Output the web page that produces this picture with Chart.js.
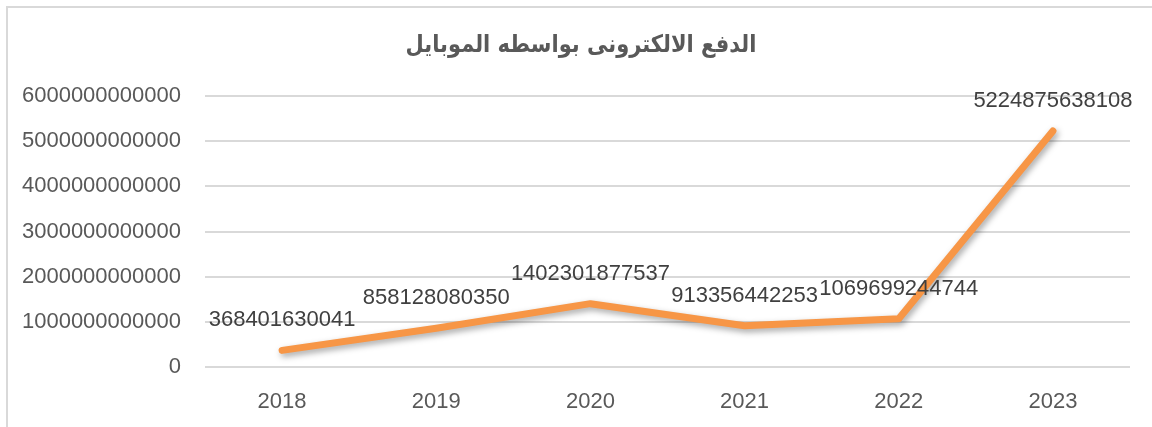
<!DOCTYPE html>
<html>
<head>
<meta charset="utf-8">
<script src="https://cdn.jsdelivr.net/npm/chart.js@4/dist/chart.umd.min.js"></script>
<style>
  html, body { margin: 0; padding: 0; background: #ffffff; overflow: hidden; }
  #frame { position: absolute; left: 6px; top: 6px; width: 1200px; height: 500px; border: 2px solid #d9d9d9; box-sizing: border-box; }
  #c { position: absolute; left: 0; top: 0; }
  #title { position: absolute; left: 381px; width: 400px; top: 28px; text-align: center; direction: rtl;
           font-family: "DejaVu Sans", "Noto Sans", sans-serif; font-weight: bold; font-size: 21px; line-height: 32px;
           color: #595959; transform: scaleY(1.15); white-space: nowrap; }
</style>
</head>
<body>
<div id="frame"></div>
<canvas id="c" width="1152" height="427"></canvas>
<div id="title"></div>
<script>
const titleText = "الدفع الالكترونى بواسطه الموبايل";
const categories = ["2018", "2019", "2020", "2021", "2022", "2023"];
const values = [368401630041, 858128080350, 1402301877537, 913356442253, 1069699244744, 5224875638108];
const yMin = 0;
const yMax = 6000000000000;
const yStep = 1000000000000;

document.getElementById('title').textContent = titleText;

const shadowPlugin = {
  id: 'lineShadow',
  beforeDatasetsDraw(chart) {
    const ctx = chart.ctx;
    ctx.save();
    ctx.shadowColor = 'rgba(0,0,0,0.35)';
    ctx.shadowBlur = 6;
    ctx.shadowOffsetX = 2;
    ctx.shadowOffsetY = 3;
  },
  afterDatasetsDraw(chart) {
    chart.ctx.restore();
  }
};

const labelPlugin = {
  id: 'valueLabels',
  afterDatasetsDraw(chart) {
    const ctx = chart.ctx;
    const meta = chart.getDatasetMeta(0);
    ctx.save();
    ctx.font = '22px "Liberation Sans", Arial, sans-serif';
    ctx.fillStyle = '#404040';
    ctx.textAlign = 'center';
    ctx.textBaseline = 'middle';
    meta.data.forEach((pt, i) => {
      ctx.fillText(String(chart.data.datasets[0].data[i]), pt.x, pt.y - 30);
    });
    ctx.restore();
  }
};

new Chart(document.getElementById('c'), {
  type: 'line',
  data: {
    labels: categories,
    datasets: [{
      data: values,
      borderColor: '#f79646',
      borderWidth: 7,
      borderCapStyle: 'round',
      borderJoinStyle: 'round',
      pointRadius: 0,
      pointHoverRadius: 0,
      fill: false,
      tension: 0
    }]
  },
  options: {
    responsive: false,
    devicePixelRatio: 1,
    animation: false,
    layout: { padding: { left: 0, right: 22, top: 96, bottom: 0 } },
    plugins: {
      legend: { display: false },
      tooltip: { enabled: false },
      title: { display: false }
    },
    scales: {
      x: {
        offset: true,
        grid: { display: false, drawTicks: false },
        border: { display: false },
        ticks: {
          color: '#595959',
          font: { family: '"Liberation Sans", Arial, sans-serif', size: 22 },
          padding: 22,
          maxRotation: 0
        },
        afterFit(scale) { scale.height = 60; }
      },
      y: {
        min: yMin,
        max: yMax,
        grid: { color: '#d9d9d9', lineWidth: 2, drawTicks: false },
        border: { display: false },
        ticks: {
          stepSize: yStep,
          color: '#595959',
          font: { family: '"Liberation Sans", Arial, sans-serif', size: 22 },
          padding: 24,
          callback: (v) => String(v)
        },
        afterFit(scale) { scale.width = 205; }
      }
    }
  },
  plugins: [shadowPlugin, labelPlugin]
});
</script>
</body>
</html>
